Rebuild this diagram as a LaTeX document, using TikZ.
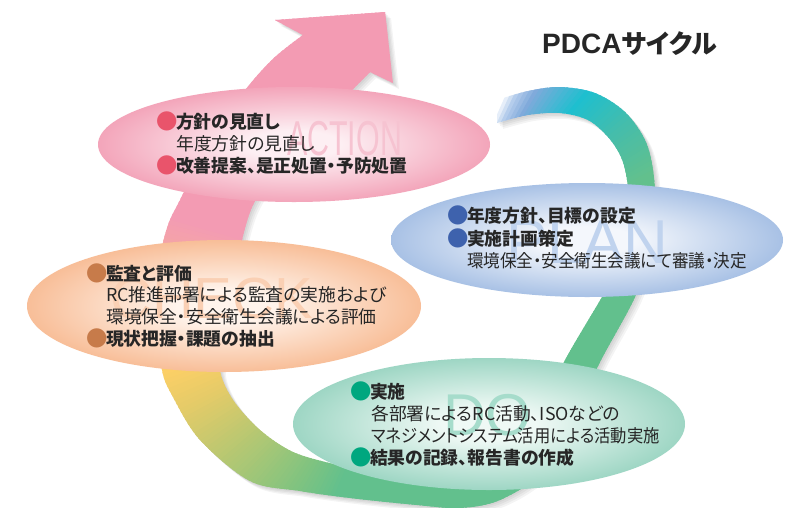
\documentclass[tikz,border=0pt]{standalone}
\usepackage{fontspec}
\newfontfamily\jp{Noto Sans CJK JP}[CharacterWidth=AlternateProportional]
\newfontfamily\lsans{Liberation Sans}
\usetikzlibrary{shapes.geometric}
\definecolor{txt}{HTML}{262626}
\definecolor{pkc}{HTML}{FDEFF3}
\definecolor{pke}{HTML}{F3A5BA}
\definecolor{blc}{HTML}{F4F7FC}
\definecolor{ble}{HTML}{A8C1E5}
\definecolor{orc}{HTML}{FFF4EC}
\definecolor{ore}{HTML}{F8BE98}
\definecolor{gnc}{HTML}{EFF9F5}
\definecolor{gne}{HTML}{9ED6C4}
\definecolor{bulP}{HTML}{E9546B}
\definecolor{bulB}{HTML}{3E62AD}
\definecolor{bulO}{HTML}{C77B4A}
\definecolor{bulG}{HTML}{00A77F}
\definecolor{ghP}{HTML}{F6C3D1}
\definecolor{ghB}{HTML}{C0D3EE}
\definecolor{ghO}{HTML}{FAD0B4}
\definecolor{ghG}{HTML}{A6DCCB}
\pgfdeclareradialshading{pinkR}{\pgfpoint{0bp}{0bp}}{color(0bp)=(pkc); color(6bp)=(pkc); color(25bp)=(pke); color(50bp)=(pke)}
\pgfdeclareradialshading{blueR}{\pgfpoint{0bp}{0bp}}{color(0bp)=(blc); color(6bp)=(blc); color(25bp)=(ble); color(50bp)=(ble)}
\pgfdeclareradialshading{oranR}{\pgfpoint{0bp}{0bp}}{color(0bp)=(orc); color(6bp)=(orc); color(25bp)=(ore); color(50bp)=(ore)}
\pgfdeclareradialshading{greenR}{\pgfpoint{0bp}{0bp}}{color(0bp)=(gnc); color(6bp)=(gnc); color(25bp)=(gne); color(50bp)=(gne)}
\newcommand\bul[1]{\makebox[1em][c]{\raisebox{-0.06em}{\scalebox{1.2}{\textcolor{#1}{●}}}}}
\def\ribbon{plot[smooth, tension=0.55] coordinates {(497,100) (528,91) (560,87) (595,93) (625,112) (645,140) (653,170) (655,205) (650,250) (635,297) (600,362) (574,418) (542,472) (500,500) (460,508) (417,505) (350,498) (300,491) (250,481) (200,440) (173,397) (162,370) (158,320) (160,260) (168,225) (180,200) (200,160) (225,118) (250,84) (275,57) (303,35)} -- (275,20) -- (385,12) -- (393,83) -- plot[smooth, tension=0.55] coordinates {(370,72) (352,90) (310,130) (275,170) (253,205) (242,240) (232,290) (224,335) (220,370) (233,400) (260,430) (293,452) (333,464) (367,472) (400,477) (440,476) (480,468) (515,450) (543,410) (564,362) (602,297) (622,260) (630,215) (627,180) (621,157) (608,137) (588,120) (560,113) (528,115) (497,123)} -- cycle}
\tikzset{
  boldline/.style={anchor=base west, inner sep=0, font=\jp\bfseries\fontsize{17.8}{17.8}\selectfont, text=txt},
  regline/.style={anchor=base west, inner sep=0, font=\jp\fontsize{17.8}{17.8}\selectfont, text=txt},
  ghost/.style={anchor=base west, inner sep=0},
  ell/.style={ellipse, inner sep=0, shade}
}
\begin{document}
\begin{tikzpicture}[x=1pt,y=-1pt]
\useasboundingbox (0,0) rectangle (802,507);
\fill[white] (0,0) rectangle (802,507);
\coordinate (C) at (420,290);
% soft shadow
\foreach \s in {1.5,3,4.5,6}{\fill[black,opacity=0.045,shift={(\s,\s)}] \ribbon;}
% ribbon with conic gradient (explicit rgb interpolation)
\begin{scope}
\clip \ribbon;
\foreach \aA/\aB/\Ra/\Ga/\Ba/\Rb/\Gb/\Bb in {
 -74/-67/255/255/255/255/255/255,
 -67/-64/255/255/255/181/205/236,
 -64/-60/181/205/236/128/170/219,
 -60/-50/128/170/219/30/191/207,
 -50/-39/30/191/207/69/189/171,
 -39/-27/69/189/171/98/192/141,
 -27/112/98/192/141/98/192/141,
 112/122/98/192/141/128/195/128,
 122/132/128/195/128/160/198/120,
 132/142/160/198/120/192/200/112,
 142/153/192/200/112/228/203/104,
 153/162/228/203/104/252/207/102,
 162/175/252/207/102/249/187/130,
 175/188/249/187/130/245/168/162,
 188/196/245/168/162/243/155/179,
 196/270/243/155/179/243/155/179}{
  \pgfmathtruncatemacro\n{\aB-\aA-1}
  \foreach \i in {0,...,\n}{
    \pgfmathsetmacro\tt{\i/(\aB-\aA)}
    \pgfmathsetmacro\colR{(\Ra+(\Rb-\Ra)*\tt)/255}
    \pgfmathsetmacro\colG{(\Ga+(\Gb-\Ga)*\tt)/255}
    \pgfmathsetmacro\colB{(\Ba+(\Bb-\Ba)*\tt)/255}
    \definecolor{wc}{rgb}{\colR,\colG,\colB}
    \pgfmathsetmacro\aa{\aA+\i}
    \fill[wc] (C) -- +(\aa-0.3:700) -- +(\aa+1.3:700) -- cycle;
  }
}
\end{scope}
% ellipses
\node[ell, shading=pinkR, minimum width=392, minimum height=115] (act) at (294,144.5) {};
\node[ell, shading=blueR, minimum width=392, minimum height=114] (plan) at (587,240) {};
\node[ell, shading=oranR, minimum width=394, minimum height=132] (chk) at (224,306) {};
\node[ell, shading=greenR, minimum width=392, minimum height=132] (do) at (489,424) {};
% ghost words
\node[ghost, text=ghP] (gA) at (287,155) {\lsans\fontsize{49}{49}\selectfont\scalebox{0.62}[1]{ACTION}};
\node[ghost, text=ghB] (gP) at (506,263) {\lsans\fontsize{62}{62}\selectfont PLAN};
\node[ghost, text=ghO] (gC) at (110,318) {\lsans\fontsize{58}{58}\selectfont CHECK};
\node[ghost, text=ghG] (gD) at (443,435) {\lsans\fontsize{59}{59}\selectfont DO};
% title
\node[anchor=base west, inner sep=0, text=txt] (title) at (542,53) {\lsans\bfseries\fontsize{28}{28}\selectfont PDCA\jp\bfseries\fontsize{26}{26}\selectfont サイクル};
% ACTION text
\node[boldline] (a1) at (158,128) {\bul{bulP}方針の見直し};
\node[regline] (a2) at (176,150.5) {年度方針の見直し};
\node[boldline] (a3) at (158,172) {\bul{bulP}改善提案、是正処置・予防処置};
% PLAN text
\node[boldline] (p1) at (449,222) {\bul{bulB}年度方針、目標の設定};
\node[boldline] (p2) at (449,245.5) {\bul{bulB}実施計画策定};
\node[regline] (p3) at (467,267) {\scalebox{0.93}[1]{環境保全・安全衛生会議にて審議・決定}};
% CHECK text
\node[boldline] (c1) at (88,280) {\bul{bulO}監査と評価};
\node[regline] (c2) at (106,301.5) {RC推進部署による監査の実施および};
\node[regline] (c3) at (106,323) {環境保全・安全衛生会議による評価};
\node[boldline] (c4) at (88,345.5) {\bul{bulO}現状把握・課題の抽出};
% DO text
\node[boldline] (d1) at (352,398) {\bul{bulG}実施};
\node[regline] (d2) at (371,420) {各部署によるRC活動、ISOなどの};
\node[regline] (d3) at (371,442.5) {\scalebox{0.915}[1]{マネジメントシステム活用による活動実施}};
\node[boldline] (d4) at (352,464) {\bul{bulG}結果の記録、報告書の作成};
\end{tikzpicture}
\end{document}
